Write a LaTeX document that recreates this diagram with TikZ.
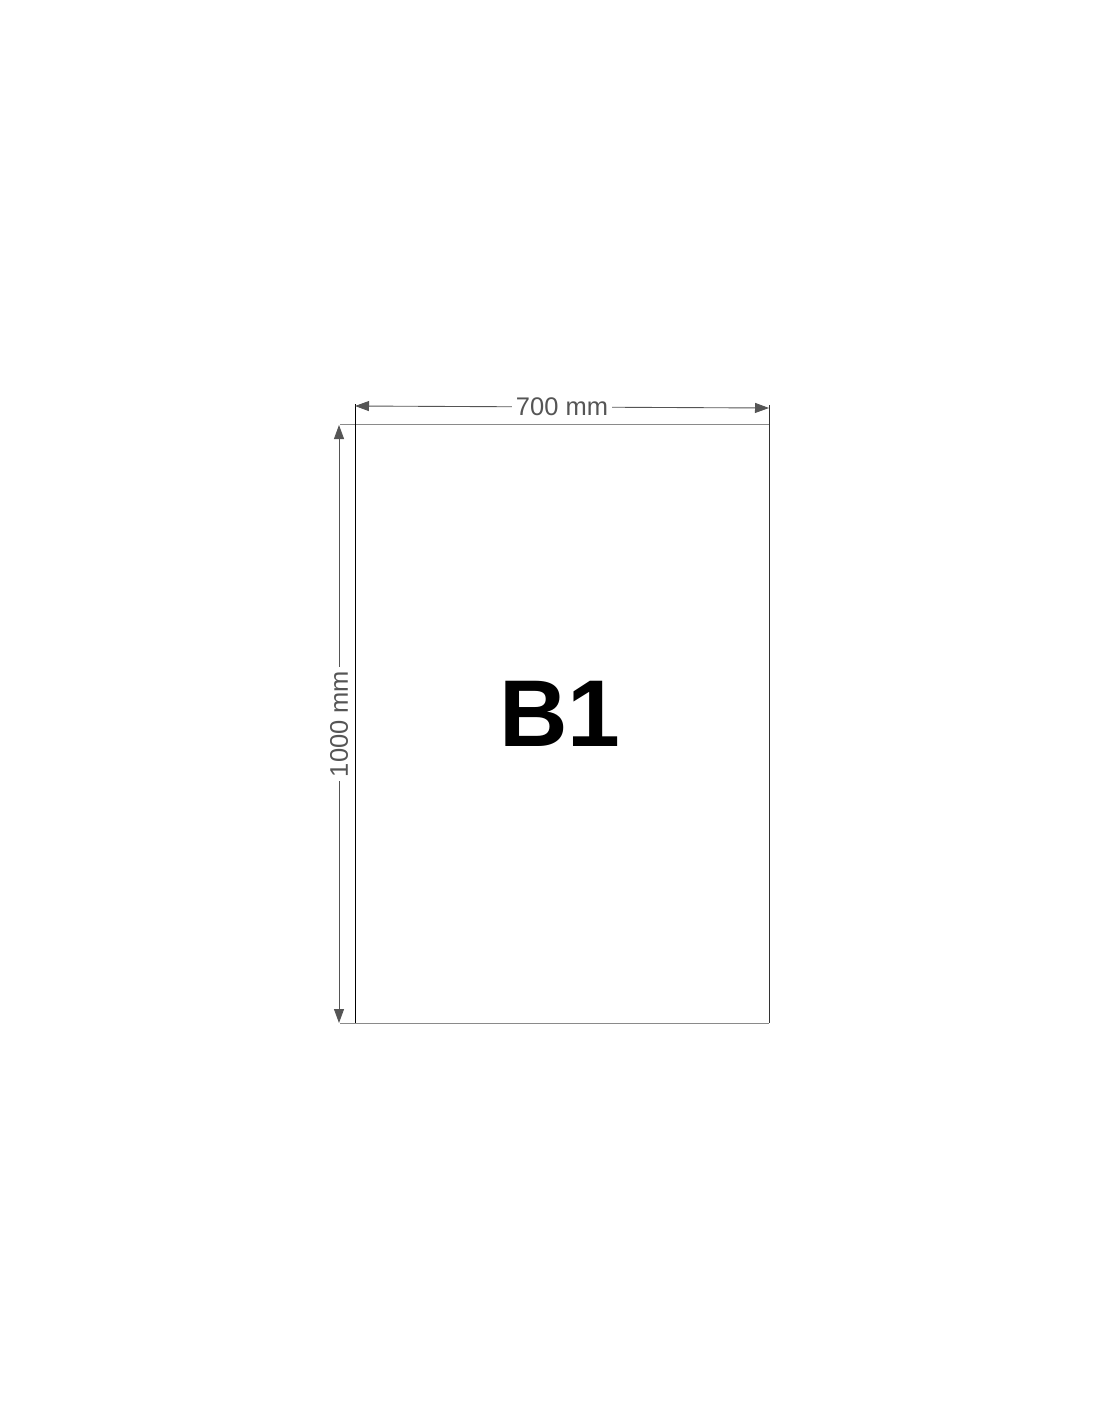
\documentclass[tikz,border=0pt]{standalone}
\usepackage{fontspec}
\setmainfont{Liberation Sans}
\usetikzlibrary{arrows.meta}
\definecolor{dimgray}{HTML}{555555}
\definecolor{edgegray}{HTML}{8A8A8A}
\tikzset{
  dimline/.style={draw=dimgray, line width=0.5pt, {Triangle[length=2.8mm,width=2mm]}-{Triangle[length=2.8mm,width=2mm]}},
  dimlabel/.style={fill=white, text=dimgray, font=\fontsize{14.5}{14.5}\selectfont, inner sep=2pt},
}
\begin{document}
\begin{tikzpicture}[x=0.2mm,y=-0.2mm]
                \useasboundingbox (0,0) rectangle (1100,1422);
                \coordinate (tl) at (355,424);
                \coordinate (tr) at (769,424);
                \coordinate (bl) at (355,1023);
                \coordinate (br) at (769,1023);
                \draw [edgegray, line width=0.55pt] (340,424) -- (tr);
                \draw [edgegray, line width=0.55pt] (340,1023) -- (br);
                \draw [black, line width=0.55pt] (355,404) -- (bl);
                \draw [black!80, line width=0.55pt] (769,405) -- (br);
                \coordinate (wl) at (355,406);
                \coordinate (wr) at (769,408);
                \coordinate (ht) at (339,425);
                \coordinate (hb) at (339,1023);
                \draw [dimline] (wl) -- node [dimlabel] (wtext) {700 mm} (wr);
                \draw [dimline] (ht) -- node [dimlabel, rotate=90] (htext) {1000 mm} (hb);
                \node [font=\bfseries\fontsize{54}{54}\selectfont] (name) at (560,714) {B1};
            \end{tikzpicture}
\end{document}
